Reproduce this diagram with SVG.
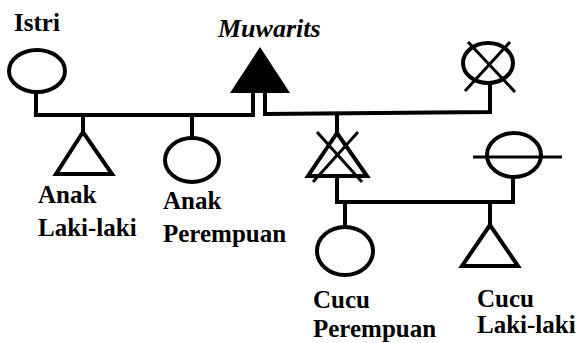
<svg xmlns="http://www.w3.org/2000/svg" width="580" height="343" viewBox="0 0 580 343">
<style>
.s{fill:none;stroke:#000;stroke-width:4}
.x{fill:none;stroke:#000;stroke-width:3}
text{font-family:'Liberation Serif','DejaVu Serif',serif;font-size:25px;fill:#000}
.t{font-weight:bold}
.i{font-style:italic;font-weight:bold;font-size:26px}
</style>
<rect width="580" height="343" fill="#fff"/>
<g id="connectors">
<polyline class="s" points="36,92 36,115 253,115 253,92"/>
<polyline class="s" points="265,92 265,114 490,112 490,83"/>
<line class="s" x1="83" y1="115" x2="83" y2="132"/>
<line class="s" x1="192" y1="115" x2="192" y2="138"/>
<line class="s" x1="337" y1="113" x2="337" y2="133"/>
<polyline class="s" points="337,177 337,202 513,202 513,177"/>
<line class="s" x1="345" y1="202" x2="345" y2="227"/>
<line class="s" x1="490" y1="202" x2="490" y2="225"/>
</g>
<g id="istri">
<ellipse class="s" cx="37" cy="71" rx="28" ry="21"/>
<text class="t" x="14" y="31">Istri</text>
</g>
<g id="muwarits">
<polygon points="260,47 230,93 290,93" fill="#000"/>
<text class="i" x="218" y="37">Muwarits</text>
</g>
<g id="istri2">
<ellipse class="s" cx="488" cy="63" rx="25" ry="20"/>
<line class="x" x1="468" y1="42" x2="515" y2="92"/>
<line class="x" x1="510" y1="42" x2="465" y2="91"/>
</g>
<g id="anak-laki">
<polygon class="s" points="83,132 56,174 112,174"/>
<text class="t" x="38" y="203">Anak</text>
<text class="t" x="38" y="236">Laki-laki</text>
</g>
<g id="anak-perempuan">
<ellipse class="s" cx="192" cy="160" rx="27" ry="22"/>
<text class="t" x="163" y="209">Anak</text>
<text class="t" x="163" y="242">Perempuan</text>
</g>
<g id="anak-laki-meninggal">
<polygon class="s" points="337,133 308,176 367,176"/>
<line class="x" x1="317" y1="132" x2="362" y2="182"/>
<line class="x" x1="358" y1="132" x2="313" y2="182"/>
</g>
<g id="menantu">
<ellipse class="s" cx="514" cy="155" rx="27" ry="22"/>
<line class="x" x1="473" y1="157" x2="562" y2="157"/>
</g>
<g id="cucu-perempuan">
<ellipse class="s" cx="345" cy="251" rx="28" ry="24"/>
<text class="t" x="313" y="308">Cucu</text>
<text class="t" x="313" y="337">Perempuan</text>
</g>
<g id="cucu-laki">
<polygon class="s" points="490,225 462,266 518,266"/>
<text class="t" x="477" y="307">Cucu</text>
<text class="t" x="477" y="333">Laki-laki</text>
</g>
</svg>
